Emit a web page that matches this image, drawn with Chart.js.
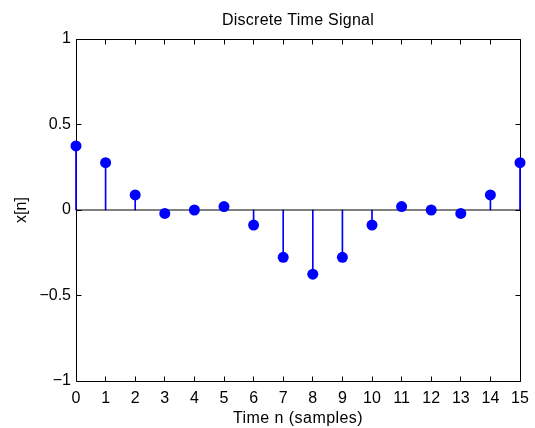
<!DOCTYPE html>
<html><head><meta charset="utf-8">
<script src="https://cdn.jsdelivr.net/npm/chart.js@4.4.1/dist/chart.umd.min.js"></script>
<style>html,body{margin:0;padding:0;background:#fff}</style>
</head><body>
<canvas id="c" width="535" height="428"></canvas>
<script>
const sampleIndex = [0,1,2,3,4,5,6,7,8,9,10,11,12,13,14,15];
const signalValues = [0.375,0.277,0.088,-0.020,0.000,0.020,-0.088,-0.277,-0.375,-0.277,-0.088,0.020,0.000,-0.020,0.088,0.277];
const xTickValues = [0,1,2,3,4,5,6,7,8,9,10,11,12,13,14,15];
const yTickValues = [-1,-0.5,0,0.5,1];
const titleText = 'Discrete Time Signal';
const xLabel = 'Time n (samples)';
const yLabel = 'x[n]';

const FONT = "'Liberation Sans', Arial, Helvetica, sans-serif";
Chart.defaults.font.family = FONT;
Chart.defaults.color = '#000';

const points = sampleIndex.map((n, i) => ({x: n, y: signalValues[i]}));
const baseline = [{x: xTickValues[0], y: 0}, {x: xTickValues[xTickValues.length - 1], y: 0}];

function spaceTitle(scale, spacing) {
  if (!scale || scale._spaced) return;
  const orig = scale.drawTitle;
  scale.drawTitle = function () {
    const c = this.ctx; c.save(); c.letterSpacing = spacing; orig.apply(this, arguments); c.restore();
  };
  scale._spaced = true;
}

const boxPlugin = {
  id: 'matlabBox',
  afterLayout(chart) {
    spaceTitle(chart.scales.x, '0.45px');
    spaceTitle(chart.scales.top, '0.25px');
  },
  beforeDatasetsDraw(chart) {
    const {ctx, chartArea: {left, right, top, bottom}, scales: {x, y}} = chart;
    const L = Math.floor(left) + 0.5, R = Math.floor(right) + 0.5;
    const T = Math.floor(top) + 0.5, B = Math.floor(bottom) + 0.5;
    const len = 5;
    ctx.save();
    ctx.strokeStyle = '#000';
    ctx.lineWidth = 1;
    ctx.beginPath();
    ctx.rect(L, T, R - L, B - T);
    xTickValues.forEach(v => {
      const px = Math.floor(x.getPixelForValue(v)) + 0.5;
      ctx.moveTo(px, B); ctx.lineTo(px, B - len);
      ctx.moveTo(px, T); ctx.lineTo(px, T + len);
    });
    yTickValues.forEach(v => {
      const py = Math.floor(y.getPixelForValue(v)) + 0.5;
      ctx.moveTo(L, py); ctx.lineTo(L + len, py);
      ctx.moveTo(R, py); ctx.lineTo(R - len, py);
    });
    ctx.stroke();
    ctx.restore();
  }
};

new Chart(document.getElementById('c'), {
  type: 'bar',
  data: {
    datasets: [
      {
        type: 'scatter',
        data: points,
        pointRadius: 5.5,
        pointHoverRadius: 5.5,
        pointBackgroundColor: '#0000ff',
        pointBorderColor: '#0000ff',
        pointBorderWidth: 0,
        showLine: false,
        clip: false,
        order: 0
      },
      {
        type: 'line',
        data: baseline,
        borderColor: '#000',
        borderWidth: 1,
        pointRadius: 0,
        clip: false,
        order: 1
      },
      {
        type: 'bar',
        data: points,
        backgroundColor: '#0000ff',
        borderWidth: 0,
        barThickness: 1,
        grouped: false,
        clip: false,
        order: 2
      }
    ]
  },
  options: {
    responsive: false,
    animation: false,
    layout: {padding: {left: 0, right: 15, top: 0, bottom: 0}},
    plugins: {
      legend: {display: false},
      tooltip: {enabled: false},
      title: {display: false}
    },
    scales: {
      x: {
        type: 'linear',
        position: 'bottom',
        min: 0, max: 15,
        offset: false,
        grid: {display: false, drawTicks: false},
        border: {display: false},
        afterBuildTicks: s => { s.ticks = xTickValues.map(v => ({value: v})); },
        afterFit: s => { s.height = 47; s.paddingLeft = 0; s.paddingRight = 0; },
        ticks: {
          padding: 8,
          font: {size: 16},
          maxRotation: 0,
          autoSkip: false,
          callback: v => String(v)
        },
        title: {
          display: true,
          text: xLabel,
          font: {size: 16, lineHeight: 1.2},
          padding: {top: 0, bottom: 0}
        }
      },
      top: {
        type: 'linear',
        position: 'top',
        axis: 'x',
        min: 0, max: 15,
        offset: false,
        grid: {display: false, drawTicks: false},
        border: {display: false},
        ticks: {display: false},
        afterFit: s => { s.height = 39; s.paddingLeft = 0; s.paddingRight = 0; },
        title: {
          display: true,
          text: titleText,
          font: {size: 16, lineHeight: 1.2},
          padding: {top: 11, bottom: 0}
        }
      },
      y: {
        type: 'linear',
        min: -1, max: 1,
        grid: {display: false, drawTicks: false},
        border: {display: false},
        afterBuildTicks: s => { s.ticks = yTickValues.map(v => ({value: v})); },
        afterFit: s => { s.width = 76; },
        ticks: {
          padding: 5,
          font: {size: 16},
          callback: v => (v < 0 ? '\u2212' : '') + Math.abs(v)
        },
        title: {
          display: true,
          text: yLabel,
          font: {size: 16, lineHeight: 1.2},
          padding: {top: 12, bottom: 0}
        }
      }
    }
  },
  plugins: [boxPlugin]
});
</script>
</body></html>
